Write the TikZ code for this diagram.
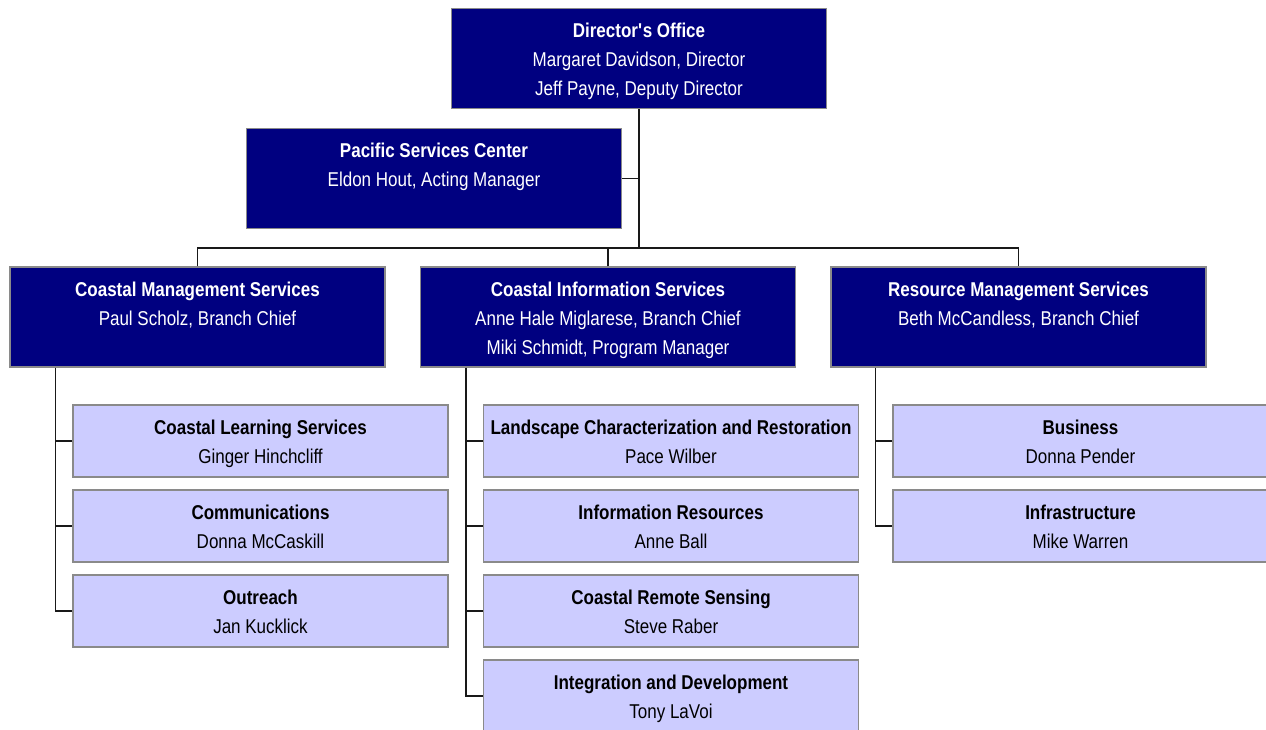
\documentclass[tikz,border=0pt]{standalone}
\usepackage{fontspec}
\setmainfont{Liberation Sans}[FakeStretch=0.85]
\definecolor{navy}{HTML}{000080}
\definecolor{lav}{HTML}{CCCCFF}
\definecolor{boxgray}{HTML}{8A8A8A}
\tikzset{
  topbox/.style={draw=boxgray, line width=1.5pt, fill=navy, text=white,
    minimum width=375pt, minimum height=100pt, align=center, inner sep=0pt,
    font=\fontsize{20}{29}\selectfont},
  subbox/.style={draw=boxgray, line width=1.5pt, fill=lav, text=black,
    minimum width=375pt, minimum height=72pt, align=center, inner sep=0pt,
    font=\fontsize{20}{29}\selectfont},
  conn/.style={line width=1.5pt, draw=black!90}
}
\newcommand{\myttl}[1]{\rule[-8.7pt]{0pt}{33.4pt}\textbf{#1}}
\newcommand{\myln}[1]{\strut #1}
\begin{document}
\begin{tikzpicture}[x=1pt,y=-1pt]
\useasboundingbox (0,0) rectangle (1266,730);
\clip (0,0) rectangle (1266,730);
\fill[white] (0,0) rectangle (1266,730);
% top level
\node[topbox] (dir) at (639,58.5) {\myttl{Director\textquotesingle s Office}\\\myln{Margaret Davidson, Director}\\\myln{Jeff Payne, Deputy Director}};
\node[topbox] (psc) at (434,178.5) {\myttl{Pacific Services Center}\\\myln{Eldon Hout, Acting Manager}\\\myln{}};
\node[topbox] (cms) at (197.5,317) {\myttl{Coastal Management Services}\\\myln{Paul Scholz, Branch Chief}\\\myln{}};
\node[topbox] (cis) at (608,317) {\myttl{Coastal Information Services}\\\myln{Anne Hale Miglarese, Branch Chief}\\\myln{Miki Schmidt, Program Manager}};
\node[topbox] (rms) at (1018.5,317) {\myttl{Resource Management Services}\\\myln{Beth McCandless, Branch Chief}\\\myln{}};
% left column
\node[subbox] (cls) at (260.5,441) {\myttl{Coastal Learning Services}\\\myln{Ginger Hinchcliff}};
\node[subbox] (com) at (260.5,526) {\myttl{Communications}\\\myln{Donna McCaskill}};
\node[subbox] (out) at (260.5,611) {\myttl{Outreach}\\\myln{Jan Kucklick}};
% middle column
\node[subbox] (lcr) at (671,441) {\myttl{Landscape Characterization and Restoration}\\\myln{Pace Wilber}};
\node[subbox] (inr) at (671,526) {\myttl{Information Resources}\\\myln{Anne Ball}};
\node[subbox] (crs) at (671,611) {\myttl{Coastal Remote Sensing}\\\myln{Steve Raber}};
\node[subbox] (ind) at (671,696) {\myttl{Integration and Development}\\\myln{Tony LaVoi}};
% right column
\node[subbox] (bus) at (1080.5,441) {\myttl{Business}\\\myln{Donna Pender}};
\node[subbox] (inf) at (1080.5,526) {\myttl{Infrastructure}\\\myln{Mike Warren}};
% connectors
\coordinate (busy) at (639,248);
\draw[conn] (dir.south) -- (dir.south |- busy);
\draw[conn] (psc.east) -- (psc.east -| dir.south);
\draw[conn] (cms.north) -- (cms.north |- busy) -- (rms.north |- busy) -- (rms.north);
\draw[conn] (cis.north) -- (cis.north |- busy);
\draw[conn] ([xshift=46pt]cms.south west) |- (cls.west);
\draw[conn] ([xshift=46pt]cms.south west) |- (com.west);
\draw[conn] ([xshift=46pt]cms.south west) |- (out.west);
\draw[conn] ([xshift=46pt]cis.south west) |- (lcr.west);
\draw[conn] ([xshift=46pt]cis.south west) |- (inr.west);
\draw[conn] ([xshift=46pt]cis.south west) |- (crs.west);
\draw[conn] ([xshift=46pt]cis.south west) |- (ind.west);
\draw[conn] ([xshift=45pt]rms.south west) |- (bus.west);
\draw[conn] ([xshift=45pt]rms.south west) |- (inf.west);
\end{tikzpicture}
\end{document}
